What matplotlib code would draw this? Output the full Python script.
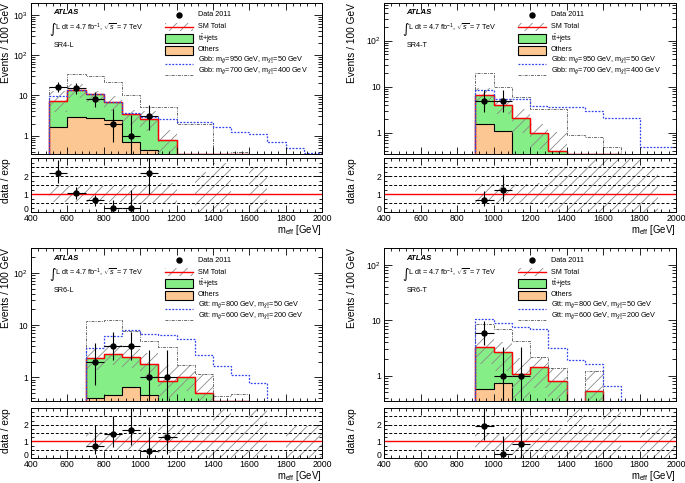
import numpy as np
import matplotlib
matplotlib.use("Agg")
import matplotlib.pyplot as plt
from matplotlib.patches import Rectangle
from matplotlib.lines import Line2D
from matplotlib.ticker import MultipleLocator, FixedLocator, LogLocator, FuncFormatter, NullFormatter

plt.rcParams['font.family'] = ['Liberation Sans', 'DejaVu Sans']
plt.rcParams['mathtext.fontset'] = 'custom'
plt.rcParams['mathtext.rm'] = 'Liberation Sans'
plt.rcParams['mathtext.it'] = 'Liberation Sans:italic'
plt.rcParams['mathtext.bf'] = 'Liberation Sans:bold'
plt.rcParams['hatch.linewidth'] = 0.6

# ---- data (bins of 100 GeV, 400 -> 2000) ----
edges = np.arange(400, 2001, 100)
L = 0.1  # below the plotted range

# SR4-L
sr4l_others = [L, 1.6, 2.9, 2.8, 2.5, 0.71, 0.44, L, L, L, L, L, L, L, L, L]
sr4l_total = [L, 7.5, 13.9, 11, 6.8, 3.5, 2.6, 0.79, 0.35, 0.35, 0.35, 0.35, L, L, L, L]
sr4l_unc_lo = [L, 3.8, 8.5, 7.0, 4.0, 1.8, 1.3, 0.3, L, L, L, L, L, L, L, L]
sr4l_unc_hi = [L, 13.3, 19.6, 12.8, 9.5, 4.4, 4.2, 1.39, L, L, L, L, L, L, L, L]
sr4l_sig1 = [L, 9.6, 13.9, 11, 6.8, 3.7, 2.9, 2.6, 2.24, 2.24, 1.6, 1.26, 1.1, 0.68, 0.5, 0.38]
sr4l_sig2 = [L, 16, 35, 31, 21.5, 10, 5.1, 5.1, 1.96, 1.96, L, 0.4, L, L, L, L]
sr4l_dx = [550, 650, 750, 850, 950, 1050]
sr4l_dy = [16, 15, 8, 2, 1, 3]
sr4l_dlo = [4.0, 3.8, 2.8, 1.3, 0.8, 1.6]
sr4l_dhi = [5.1, 4.9, 3.9, 2.6, 2.3, 2.9]
sr4l_r = [2.18, 1.04, 0.65, 0.22, 0.25, 2.18]
sr4l_rlo = [0.55, 0.34, 0.3, 0.22, 0.25, 1.2]
sr4l_rhi = [0.72, 0.33, 0.29, 0.43, 0.95, 0.92]
sr4l_blo = [1, 0.55, 0.55, 0.55, 0.55, 0.5, 0.5, 0.45, 1, 0, 0, 1, 0, 1, 1, 1]
sr4l_bhi = [1, 1.5, 1.45, 1.45, 1.5, 1.5, 1.55, 1.6, 1, 2.25, 2.75, 1, 2.5, 1, 1, 1]

# SR4-T
sr4t_others = [L, L, L, L, L, 1.6, 1.1, L, L, L, L, L, L, L, L, L]
sr4t_total = [L, L, L, L, L, 6.7, 4.1, 2.14, 1.0, 0.41, 0.35, 0.35, 0.35, L, L, L]
sr4t_unc_lo = [L, L, L, L, L, 4.5, 2.6, 1.0, 0.45, 0.2, L, L, L, L, L, L]
sr4t_unc_hi = [L, L, L, L, L, 9.5, 5.8, 3.3, 1.6, 1.05, L, L, L, L, L, L]
sr4t_sig1 = [L, L, L, L, L, 8.6, 5.5, 5.4, 3.9, 3.7, 3.6, 3.0, 2.1, 2.1, 0.5, 0.5]
sr4t_sig2 = [L, L, L, L, L, 20, 10, 6, 3.3, 3.3, 0.9, 0.82, 0.5, L, L, L]
sr4t_dx = [950, 1050]
sr4t_dy = [5, 5]
sr4t_dlo = [2.2, 2.2]
sr4t_dhi = [3.4, 3.4]
sr4t_r = [0.65, 1.2]
sr4t_rlo = [0.3, 0.6]
sr4t_rhi = [0.5, 0.85]
sr4t_blo = [1, 1, 1, 1, 1, 0.45, 0.45, 0.45, 0.45, 0, 0, 0, 0, 0, 0, 1]
sr4t_bhi = [1, 1, 1, 1, 1, 1.55, 1.55, 1.55, 1.6, 2.45, 2.45, 3, 3, 3, 2.5, 1]

# SR6-L
sr6l_others = [L, L, L, 0.4, 0.45, 0.64, 0.45, L, L, L, L, L, L, L, L, L]
sr6l_total = [L, L, L, 2.37, 2.83, 2.44, 1.83, 0.83, 1.03, 0.49, 0.35, 0.35, L, L, L, L]
sr6l_unc_lo = [L, L, L, 1.4, 1.7, 1.5, 1.0, 0.4, 0.55, 0.2, L, L, L, L, L, L]
sr6l_unc_hi = [L, L, L, 3.7, 4.1, 3.4, 2.95, 1.7, 1.7, 1.17, L, L, L, L, L, L]
sr6l_sig1 = [L, L, L, 3.57, 6.3, 8.0, 6.8, 6.5, 5.3, 2.7, 1.64, 1.1, 0.77, L, L, L]
sr6l_sig2 = [L, L, L, 11.8, 12.7, 7.6, 4.9, 3.8, 1.7, 1.17, 0.44, 0.48, L, L, L, L]
sr6l_dx = [750, 850, 950, 1050, 1150]
sr6l_dy = [2, 4, 4, 1, 1]
sr6l_dlo = [1.3, 1.9, 1.9, 0.8, 0.8]
sr6l_dhi = [2.6, 3.2, 3.2, 2.3, 2.3]
sr6l_r = [0.75, 1.45, 1.7, 0.43, 1.25]
sr6l_rlo = [0.5, 0.8, 0.9, 0.43, 1.0]
sr6l_rhi = [1.25, 1.05, 1.3, 1.45, 1.75]
sr6l_blo = [1, 1, 1, 0.45, 0.45, 0.45, 0.45, 0.3, 0.3, 0, 0, 0, 0, 1, 0, 0]
sr6l_bhi = [1, 1, 1, 1.55, 1.5, 1.5, 1.55, 1.9, 1.9, 1.9, 3, 1.9, 3, 1, 1.9, 1.9]

# SR6-T
sr6t_others = [L, L, L, L, L, 0.58, 0.74, L, L, L, L, L, L, L, L, L]
sr6t_total = [L, L, L, L, L, 3.29, 2.63, 1.09, 1.41, 0.79, L, 0.52, L, L, L, L]
sr6t_unc_lo = [L, L, L, L, L, 1.6, 1.2, 0.4, 0.6, 0.3, L, 0.2, L, L, L, L]
sr6t_unc_hi = [L, L, L, L, L, 5.0, 4.0, 2.08, 2.2, 1.4, L, 1.2, L, L, L, L]
sr6t_sig1 = [L, L, L, L, L, 10.6, 8.9, 7.7, 6.9, 3.2, 1.94, 1.65, 0.64, L, L, L]
sr6t_sig2 = [L, L, L, L, L, 8.5, 6.8, 4.3, 2.2, 1.4, L, 1.2, L, L, L, L]
sr6t_dx = [950, 1050, 1150]
sr6t_dy = [6, 1, 1]
sr6t_dlo = [2.4, 0.8, 0.8]
sr6t_dhi = [3.6, 2.3, 2.3]
sr6t_r = [1.9, 0.25, 0.87]
sr6t_rlo = [0.82, 0.25, 0.87]
sr6t_rhi = [1.2, 1.05, 2.13]
sr6t_blo = [1, 1, 1, 1, 1, 0.4, 0.4, 0, 0, 0, 0, 0, 0, 1, 0, 0]
sr6t_bhi = [1, 1, 1, 1, 1, 1.5, 1.5, 1.8, 1.8, 1.8, 3, 1.8, 3, 1, 1.8, 1.8]

gbb_labels = [r"Gbb: m$_{\tilde{g}}$=950 GeV, m$_{\tilde{\chi}^{0}_{1}}$=50 GeV",
              r"Gbb: m$_{\tilde{g}}$=700 GeV, m$_{\tilde{\chi}^{0}_{1}}$=400 GeV"]
gtt_labels = [r"Gtt: m$_{\tilde{g}}$=800 GeV, m$_{\tilde{\chi}^{0}_{1}}$=50 GeV",
              r"Gtt: m$_{\tilde{g}}$=600 GeV, m$_{\tilde{\chi}^{0}_{1}}$=200 GeV"]

GREEN = "#86ee86"
ORANGE = "#fcc792"
HATCH = "#8a8a8a"
BLUE = "#3344ee"
GRAY = "#6a6a6a"
SIG2_LS = (0, (3, 1.2, 1, 1.2))
SIG1_LS = (0, (1.5, 1.2))

W, H = 685, 483


def px_rect(x0, y0, x1, y1):
    return [x0 / W, 1 - y1 / H, (x1 - x0) / W, (y1 - y0) / H]


def log_fmt(v, pos):
    if abs(v - 1) < 1e-9:
        return "1"
    if abs(v - 10) < 1e-9:
        return "10"
    return r"$10^{%d}$" % int(round(np.log10(v)))


def style_x(ax):
    ax.set_xlim(400, 2000)
    ax.xaxis.set_major_locator(MultipleLocator(200))
    ax.xaxis.set_minor_locator(MultipleLocator(40))
    ax.tick_params(which='both', direction='in', top=True, right=True, labelsize=6.3, width=0.6)
    ax.tick_params(which='major', length=5)
    ax.tick_params(which='minor', length=2.5)
    ax.tick_params(axis='x', pad=1.5)
    ax.tick_params(axis='y', labelsize=6.2, pad=2)
    for s in ax.spines.values():
        s.set_linewidth(0.7)


def draw_legend(ax, pw, ph, labels):
    fx = lambda x: x / pw
    fy = lambda y: 1 - y / ph
    hx0, hx1, tx = fx(134), fx(162), fx(167)
    kw = dict(transform=ax.transAxes, clip_on=False)
    ax.add_line(Line2D([(hx0 + hx1) / 2], [fy(12)], marker='o', ms=3.6, color='k', **kw))
    ax.add_patch(Rectangle((hx0, fy(28)), hx1 - hx0, fy(20) - fy(28), facecolor='none',
                           edgecolor=HATCH, hatch='///', lw=0, **kw))
    ax.add_line(Line2D([hx0, hx1], [fy(24), fy(24)], color='red', lw=1, **kw))
    ax.add_patch(Rectangle((hx0, fy(40)), hx1 - hx0, fy(31) - fy(40), facecolor=GREEN,
                           edgecolor='k', lw=0.8, **kw))
    ax.add_patch(Rectangle((hx0, fy(52)), hx1 - hx0, fy(43) - fy(52), facecolor=ORANGE,
                           edgecolor='k', lw=0.8, **kw))
    ax.add_line(Line2D([hx0, hx1], [fy(61), fy(61)], color=BLUE, lw=0.9, ls=SIG1_LS, **kw))
    ax.add_line(Line2D([hx0, hx1], [fy(72), fy(72)], color=GRAY, lw=0.7, ls=SIG2_LS, **kw))
    texts = [("Data 2011", 12), ("SM Total", 24), (r"t$\bar{\rm t}$+jets", 35.5),
             ("Others", 46.5), (labels[0], 57), (labels[1], 68)]
    for t, y in texts:
        ax.text(tx, fy(y), t, transform=ax.transAxes, fontsize=5.2, va='center', ha='left')


def draw_panel(fig, pm, pr, ytop, name, labels, d):
    pw, ph = pm[2] - pm[0], pm[3] - pm[1]
    lab_x = 11 if pm[0] < 100 else 357  # right edge of the rotated y labels, in pixels
    ax = fig.add_axes(px_rect(*pm))
    ax.set_yscale('log')
    ax.stairs(d['total'], edges, baseline=0.01, fill=True, facecolor=GREEN, edgecolor='k', lw=0.8)
    ax.stairs(d['others'], edges, baseline=0.01, fill=True, facecolor=ORANGE, edgecolor='k', lw=0.8)
    ax.stairs(d['unc_hi'], edges, baseline=d['unc_lo'], fill=True, facecolor='none',
              edgecolor=HATCH, hatch='///', lw=0)
    ax.stairs(d['total'], edges, baseline=None, color='red', lw=1.0)
    ax.stairs(d['sig2'], edges, baseline=None, color=GRAY, lw=0.7, ls=SIG2_LS)
    ax.stairs(d['sig1'], edges, baseline=None, color=BLUE, lw=0.9, ls=SIG1_LS)
    ax.errorbar(d['dx'], d['dy'], yerr=[d['dlo'], d['dhi']], xerr=50, fmt='o', color='k',
                ms=3.6, lw=0.8, capsize=0)
    style_x(ax)
    ax.set_ylim(0.35, ytop)
    ax.yaxis.set_major_locator(LogLocator(base=10))
    ax.yaxis.set_minor_locator(LogLocator(base=10, subs=np.arange(2, 10)))
    ax.yaxis.set_major_formatter(FuncFormatter(log_fmt))
    ax.yaxis.set_minor_formatter(NullFormatter())
    ax.tick_params(labelbottom=False)
    ax.tick_params(which='major', axis='y', length=6)
    ax.tick_params(which='minor', axis='y', length=3)
    ax.set_ylabel("Events / 100 GeV", fontsize=7.3, loc='top')
    ax.yaxis.set_label_coords((lab_x - pm[0]) / pw, 1.0)

    ax.text(22 / pw, 1 - 10 / ph, "ATLAS", transform=ax.transAxes, fontsize=5.6,
            fontweight='bold', fontstyle='italic', va='center')
    ax.text(18.5 / pw, 1 - 27 / ph, "\u222b", transform=ax.transAxes, fontsize=9,
            va='center', family=['DejaVu Sans'])
    ax.text(24 / pw, 1 - 25 / ph, r"L dt = 4.7 fb$^{-1}$, $\sqrt{s}$ = 7 TeV",
            transform=ax.transAxes, fontsize=5.2, va='center')
    ax.text(23 / pw, 1 - 43 / ph, name, transform=ax.transAxes, fontsize=5.2, va='center')
    draw_legend(ax, pw, ph, labels)

    ar = fig.add_axes(px_rect(*pr))
    ar.stairs(d['bhi'], edges, baseline=d['blo'], fill=True, facecolor='none',
              edgecolor=HATCH, hatch='///', lw=0)
    for yv in (0.5, 1.5, 2, 2.5):
        ar.axhline(yv, color='k', ls=(0, (3, 2)), lw=0.7)
    ar.axhline(1, color='red', lw=1.0)
    ar.errorbar(d['dx'], d['r'], yerr=[d['rlo'], d['rhi']], xerr=50, fmt='o', color='k',
                ms=3.6, lw=0.8, capsize=0)
    style_x(ar)
    ar.set_ylim(0, 3)
    ar.yaxis.set_major_locator(FixedLocator([0, 1, 2]))
    ar.yaxis.set_minor_locator(MultipleLocator(0.25))
    ar.set_ylabel("data / exp", fontsize=7.3, loc='top')
    rw, rh = pr[2] - pr[0], pr[3] - pr[1]
    ar.yaxis.set_label_coords((lab_x - pr[0]) / rw, 1.0)
    ar.set_xlabel(r"m$_{\rm eff}$ [GeV]", fontsize=6.9, loc='right')
    ar.xaxis.set_label_coords(1.0, -11 / rh)
    ar.xaxis.label.set_va('top')
    fig.canvas.draw()
    ar.get_yticklabels()[0].set_va('baseline')


def pack(p):
    return dict(others=p[0], total=p[1], unc_lo=p[2], unc_hi=p[3], sig1=p[4], sig2=p[5],
                dx=p[6], dy=p[7], dlo=p[8], dhi=p[9], r=p[10], rlo=p[11], rhi=p[12],
                blo=p[13], bhi=p[14])


sr4l = pack([sr4l_others, sr4l_total, sr4l_unc_lo, sr4l_unc_hi, sr4l_sig1, sr4l_sig2, sr4l_dx,
             sr4l_dy, sr4l_dlo, sr4l_dhi, sr4l_r, sr4l_rlo, sr4l_rhi, sr4l_blo, sr4l_bhi])
sr4t = pack([sr4t_others, sr4t_total, sr4t_unc_lo, sr4t_unc_hi, sr4t_sig1, sr4t_sig2, sr4t_dx,
             sr4t_dy, sr4t_dlo, sr4t_dhi, sr4t_r, sr4t_rlo, sr4t_rhi, sr4t_blo, sr4t_bhi])
sr6l = pack([sr6l_others, sr6l_total, sr6l_unc_lo, sr6l_unc_hi, sr6l_sig1, sr6l_sig2, sr6l_dx,
             sr6l_dy, sr6l_dlo, sr6l_dhi, sr6l_r, sr6l_rlo, sr6l_rhi, sr6l_blo, sr6l_bhi])
sr6t = pack([sr6t_others, sr6t_total, sr6t_unc_lo, sr6t_unc_hi, sr6t_sig1, sr6t_sig2, sr6t_dx,
             sr6t_dy, sr6t_dlo, sr6t_dhi, sr6t_r, sr6t_rlo, sr6t_rhi, sr6t_blo, sr6t_bhi])

fig = plt.figure(figsize=(6.85, 4.83), dpi=100)
draw_panel(fig, (31, 3, 322, 154), (31, 158, 322, 212), 2000, "SR4-L", gbb_labels, sr4l)
draw_panel(fig, (384, 3, 676, 154), (384, 158, 676, 212), 650, "SR4-T", gbb_labels, sr4t)
draw_panel(fig, (31, 248, 322, 401), (31, 408, 322, 458), 300, "SR6-L", gtt_labels, sr6l)
draw_panel(fig, (384, 248, 676, 401), (384, 408, 676, 458), 200, "SR6-T", gtt_labels, sr6t)

fig.savefig("out.png", dpi=100)
